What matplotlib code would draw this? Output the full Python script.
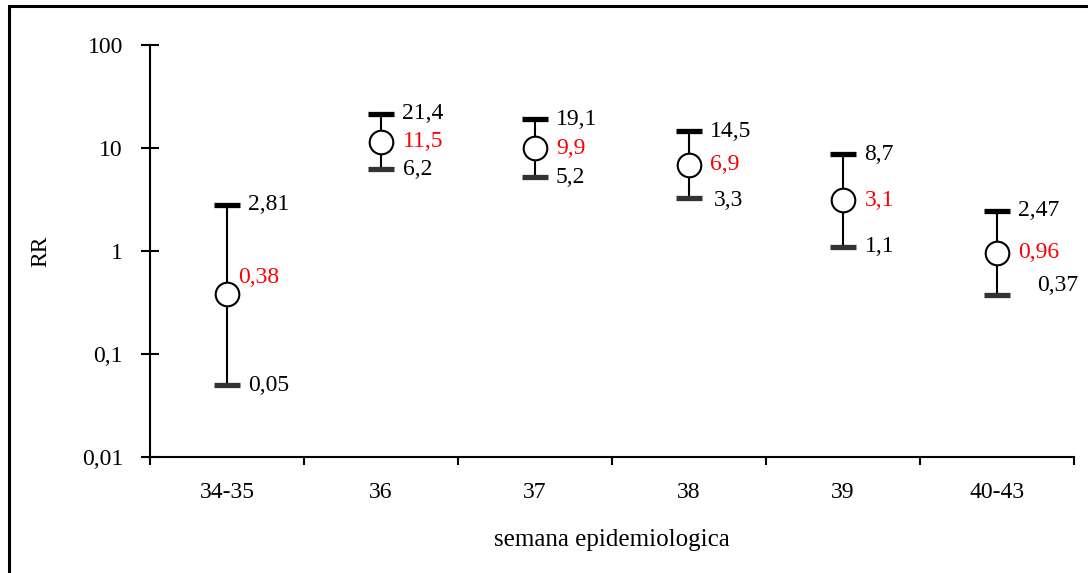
import matplotlib.pyplot as plt
from matplotlib.patches import Rectangle
from matplotlib.ticker import FixedLocator, NullFormatter

plt.rcParams['font.family'] = ['Liberation Serif', 'DejaVu Serif']

# semanas y riesgo relativo con IC
semanas = ["34-35", "36", "37", "38", "39", "40-43"]
rr = [0.38, 11.5, 9.9, 6.9, 3.1, 0.96]
ic_sup = [2.81, 21.4, 19.1, 14.5, 8.7, 2.47]
ic_inf = [0.05, 6.2, 5.2, 3.3, 1.1, 0.37]

# desplazamientos de las etiquetas (pixeles)
off_sup = [(21, 0)] * 6
off_rr = [(11, 17), (22, 0), (21, 0), (21, 0), (22, 0), (21, 0)]
off_inf = [(21, 0), (22, 0), (21, 0), (25, -3), (22, 0), (40, 10)]

FS = 17

def coma(v):
    return ("%g" % v).replace(".", ",")

fig = plt.figure(figsize=(10.88, 5.73), dpi=100)
ax = fig.add_axes([150/1088, 1 - 457/573, 924/1088, 412/573])

x = list(range(len(semanas)))

for i in x:
    ax.plot([i, i], [ic_inf[i], ic_sup[i]], color="black", lw=1.5, zorder=2)
ax.plot(x, ic_sup, ls="none", marker="_", ms=19, mew=3.8, color="black", zorder=3)
ax.plot(x, ic_inf, ls="none", marker="_", ms=19, mew=3.8, color="#333333", zorder=3)
ax.plot(x, rr, ls="none", marker="o", ms=17, mfc="white", mec="black", mew=1.5, zorder=4)

for i in x:
    ax.annotate(coma(ic_sup[i]), (i, ic_sup[i]), xytext=off_sup[i],
                textcoords="offset pixels", ha="left", va="center", fontsize=FS)
    ax.annotate(coma(rr[i]), (i, rr[i]), xytext=off_rr[i],
                textcoords="offset pixels", ha="left", va="center", fontsize=FS, color="red")
    ax.annotate(coma(ic_inf[i]), (i, ic_inf[i]), xytext=off_inf[i],
                textcoords="offset pixels", ha="left", va="center", fontsize=FS)

ax.set_yscale("log")
ax.set_ylim(0.01, 100)
ax.set_xlim(-0.5, len(semanas) - 0.5)

yt = [0.01, 0.1, 1, 10, 100]
ax.yaxis.set_major_locator(FixedLocator(yt))
ax.yaxis.set_minor_locator(FixedLocator([]))
ax.set_yticklabels([coma(v) for v in yt])
ax.tick_params(axis="y", which="major", direction="inout", length=13, width=1.5,
               labelsize=FS, pad=13)

ax.xaxis.set_major_locator(FixedLocator([i - 0.5 for i in range(len(semanas) + 1)]))
ax.xaxis.set_major_formatter(NullFormatter())
ax.xaxis.set_minor_locator(FixedLocator(x))
ax.set_xticklabels(semanas, minor=True)
ax.tick_params(axis="x", which="major", direction="out", length=6, width=1.5)
ax.tick_params(axis="x", which="minor", length=0, labelsize=FS, pad=18)

for s in ["top", "right"]:
    ax.spines[s].set_visible(False)
for s in ["left", "bottom"]:
    ax.spines[s].set_linewidth(1.5)

ax.set_ylabel("RR", fontsize=FS, labelpad=22)
ax.set_xlabel("semana epidemiologica", fontsize=18, labelpad=19)

# marco exterior
fig.patches.append(Rectangle((9/1088, -0.1), 1.2, 1 - 6/573 + 0.1, transform=fig.transFigure,
                             fill=False, lw=2.2, ec="black"))

fig.savefig("out.png", dpi=100)
